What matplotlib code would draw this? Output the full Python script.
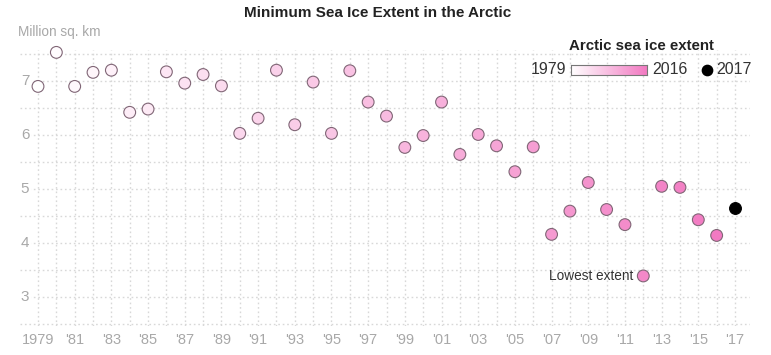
import matplotlib.pyplot as plt
import numpy as np
from matplotlib.colors import LinearSegmentedColormap, Normalize

years = list(range(1979, 2018))
extent = [6.90, 7.53, 6.90, 7.16, 7.20, 6.42, 6.48, 7.17, 6.96, 7.12,
          6.91, 6.03, 6.31, 7.20, 6.19, 6.98, 6.03, 7.19, 6.61, 6.35,
          5.77, 5.99, 6.61, 5.64, 6.01, 5.80, 5.32, 5.78, 4.16, 4.59,
          5.12, 4.62, 4.34, 3.39, 5.05, 5.03, 4.43, 4.14, 4.64]
ytick_vals = [3, 4, 5, 6, 7]
xtick_years = list(range(1979, 2018, 2))
xtick_labels = ["1979"] + ["'%02d" % (y % 100) for y in xtick_years[1:]]

W, H = 771, 355
fig = plt.figure(figsize=(W / 100, H / 100), dpi=100)
plt.rcParams["font.family"] = ["Liberation Sans", "DejaVu Sans"]

# axes box in pixels: left 20, right 750, top 50, bottom 326
ax = fig.add_axes([20 / W, 1 - 326 / H, 730 / W, 276 / H])
x0 = 1979 - 18 / 18.34
x1 = 2017 + 15 / 18.34
ax.set_xlim(x0, x1)
ax.set_ylim(7 - 245 / 54, 7 + 31 / 54)
for s in ax.spines.values():
    s.set_visible(False)

grid_kw = dict(color="#d8d8d8", lw=1.0, ls=(0, (1.2, 2.0)), zorder=0)
for yv in np.arange(2.5, 7.51, 0.5):
    ax.axhline(yv, **grid_kw)
for yr in years:
    ax.axvline(yr, **grid_kw)

cmap = LinearSegmentedColormap.from_list("ice", ["#ffffff", "#f27ac2"])
norm = Normalize(1979, 2016)
past_years = years[:-1]
past_ext = extent[:-1]
ax.scatter(past_years, past_ext, s=72, c=past_years, cmap=cmap, norm=norm,
           edgecolors="#806676", linewidths=0.8, zorder=3, clip_on=False)
ax.scatter(years[-1:], extent[-1:], s=72, c="black", edgecolors="black",
           linewidths=0.8, zorder=3, clip_on=False)

ax.set_yticks([])
for yv in ytick_vals:
    ax.text(1979 - 13 / 18.34, yv, str(yv), ha="center", va="center",
            fontsize=11, color="#a8a8a8",
            bbox=dict(facecolor="white", edgecolor="none", pad=1.5), zorder=2)

ax.set_xticks(xtick_years)
ax.set_xticklabels(xtick_labels, fontsize=10.5, color="#a8a8a8")
ax.tick_params(axis="x", length=0, pad=5)

ax.text(2012 - 0.55, extent[years.index(2012)], "Lowest extent", ha="right",
        va="center", fontsize=9.8, color="#333333", zorder=4)

fig.text(378 / W, 1 - 13 / H, "Minimum Sea Ice Extent in the Arctic",
         ha="center", va="center", fontsize=11, fontweight="bold", color="#222222")
fig.text(18 / W, 1 - 32 / H, "Million sq. km", ha="left", va="center",
         fontsize=9.8, color="#a8a8a8")

# legend
fig.text(641 / W, 1 - 46 / H, "Arctic sea ice extent", ha="center", va="center",
         fontsize=10.8, fontweight="bold", color="#222222")
fig.text(566 / W, 1 - 70 / H, "1979", ha="right", va="center", fontsize=11.5,
         color="#333333")
cax = fig.add_axes([571 / W, 1 - 75 / H, 76 / W, 10 / H])
cax.imshow(np.linspace(0, 1, 200)[None, :], aspect="auto", cmap=cmap,
           extent=[0, 1, 0, 1])
cax.set_xticks([])
cax.set_yticks([])
for s in cax.spines.values():
    s.set_edgecolor("#777777")
    s.set_linewidth(0.8)
fig.text(652 / W, 1 - 70 / H, "2016", ha="left", va="center", fontsize=11.5,
         color="#333333")
dax = fig.add_axes([0, 0, 1, 1], facecolor="none")
dax.set_xlim(0, W)
dax.set_ylim(H, 0)
dax.axis("off")
dax.scatter([707], [70], s=55, c="black")
fig.text(716 / W, 1 - 70 / H, "2017", ha="left", va="center", fontsize=11.5,
         color="#333333")

fig.savefig("out.png", dpi=100)
